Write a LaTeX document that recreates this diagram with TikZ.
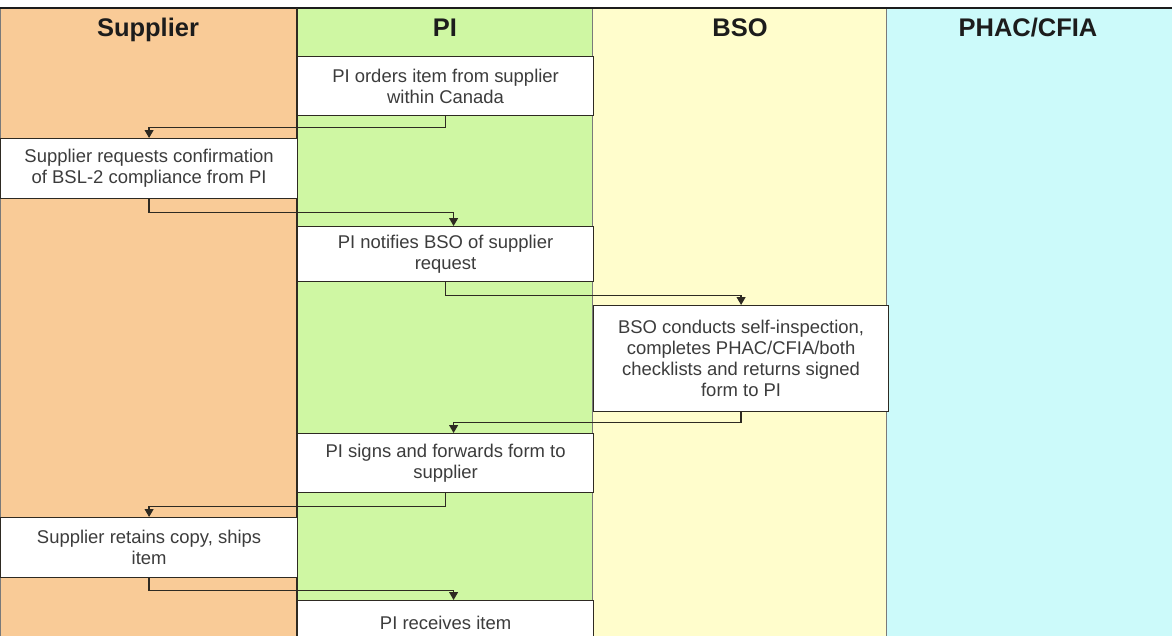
\documentclass[tikz,border=0pt]{standalone}
\usepackage{fontspec}
\setmainfont{Liberation Sans}
\usetikzlibrary{arrows.meta,positioning,calc}

\definecolor{supplierc}{HTML}{F9CB97}
\definecolor{pic}{HTML}{CFF7A3}
\definecolor{bsoc}{HTML}{FFFDCC}
\definecolor{phacc}{HTML}{CCFAFA}
\definecolor{lanec}{HTML}{7A7A7A}
\definecolor{linec}{HTML}{2E2A22}
\definecolor{textc}{HTML}{3C3C3C}
\definecolor{headc}{HTML}{1C1C1C}

\tikzset{
  lane/.style={draw=lanec, line width=0.6pt, anchor=north west, minimum height=12.7cm, inner sep=0pt, outer sep=0pt},
  head/.style={font=\fontsize{14.5}{16}\selectfont\bfseries, text=headc, anchor=base},
  stepbox/.style={draw=linec, line width=0.7pt, fill=white, anchor=north west, align=center,
    minimum width=5.92cm, inner sep=0pt, text=textc, font=\fontsize{10.5}{12}\selectfont},
  flow/.style={draw=linec, line width=0.8pt, -{Triangle[length=4.5pt,width=5pt]}},
}

\begin{document}
\begin{tikzpicture}[x=0.02cm, y=-0.02cm]
  \fill[white] (0,0) rectangle (1172,635);
  \useasboundingbox (0,0) rectangle (1172,635);

  % swim lanes
  \node[lane, fill=supplierc, minimum width=5.94cm] (lsup) at (0,8) {};
  \node[lane, fill=pic, minimum width=5.92cm, right=0pt of lsup.north east, anchor=north west] (lpi) {};
  \node[lane, fill=bsoc, minimum width=5.88cm, right=0pt of lpi.north east, anchor=north west] (lbso) {};
  \node[lane, fill=phacc, minimum width=6cm, right=0pt of lbso.north east, anchor=north west] (lphac) {};

  \draw[headc, line width=1.5pt] (lsup.north west) -- (lphac.north east);
  \draw[linec, line width=1pt] (lsup.north east) -- (lsup.south east);

  \node[head] (hsup) at (148,37) {Supplier};
  \node[head] (hpi) at (445,37) {PI};
  \node[head] (hbso) at (740,37) {BSO};
  \node[head] (hphac) at (1028,37) {PHAC/CFIA};

  % steps
  \node[stepbox, minimum height=1.18cm] (b1) at (297,56) {PI orders item from supplier\\within Canada};
  \node[stepbox, minimum width=5.94cm, minimum height=1.2cm] (b2) at (0,138) {Supplier requests confirmation\\of BSL-2 compliance from PI};
  \node[stepbox, minimum height=1.1cm] (b3) at (297,226) {PI notifies BSO of supplier\\request};
  \node[stepbox, minimum width=5.9cm, minimum height=2.12cm] (b4) at (593,305) {BSO conducts self-inspection,\\completes PHAC/CFIA/both\\checklists and returns signed\\form to PI};
  \node[stepbox, minimum height=1.18cm] (b5) at (297,433) {PI signs and forwards form to\\supplier};
  \node[stepbox, minimum width=5.94cm, minimum height=1.2cm] (b6) at (0,517) {Supplier retains copy, ships\\item};
  \node[stepbox, minimum height=0.88cm] (b7) at (297,600) {PI receives item};

  \draw[flow] (b1.south) -- ++(0,11) -| (b2.north);
  \draw[flow] (b2.south) -- ++(0,13) -| ([xshift=0.16cm]b3.north);
  \draw[flow] (b3.south) -- ++(0,13) -| (b4.north);
  \draw[flow] (b4.south) -- ++(0,10) -| ([xshift=0.16cm]b5.north);
  \draw[flow] (b5.south) -- ++(0,13) -| (b6.north);
  \draw[flow] (b6.south) -- ++(0,12) -| ([xshift=0.16cm]b7.north);
\end{tikzpicture}
\end{document}
